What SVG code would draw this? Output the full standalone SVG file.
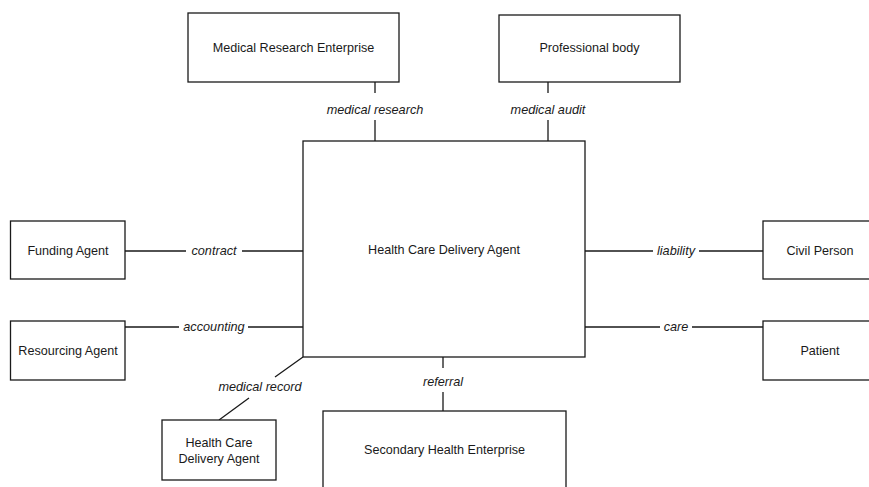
<svg xmlns="http://www.w3.org/2000/svg" width="869" height="487" viewBox="0 0 869 487">
  <style>
    .box { fill: #fff; stroke: #1a1a1a; stroke-width: 1.3; }
    .line { stroke: #1a1a1a; stroke-width: 1.3; fill: none; }
    .name { font-family: "Liberation Sans", Arial, sans-serif; font-size: 12.6px; fill: #1a1a1a; text-anchor: middle; }
    .rel { font-family: "Liberation Sans", Arial, sans-serif; font-size: 12.7px; font-style: italic; fill: #1a1a1a; text-anchor: middle; }
  </style>
  <rect width="869" height="487" fill="#fff"/>

  <!-- relationships -->
  <g id="connectors">
    <path class="line" d="M375 82V93M375 120V141"/>
    <text class="rel" x="375" y="114">medical research</text>
    <path class="line" d="M548 82V93M548 120V141"/>
    <text class="rel" x="548" y="114">medical audit</text>
    <path class="line" d="M125 251H186M242 251H303"/>
    <text class="rel" x="214" y="255">contract</text>
    <path class="line" d="M125 327H179M248 327H303"/>
    <text class="rel" x="214" y="331">accounting</text>
    <path class="line" d="M585 251H653M699 251H763"/>
    <text class="rel" x="676" y="255">liability</text>
    <path class="line" d="M585 327H660M692 327H763"/>
    <text class="rel" x="676" y="331">care</text>
    <path class="line" d="M303 357L275 377M249 398L219 420"/>
    <text class="rel" x="260" y="391">medical record</text>
    <path class="line" d="M443 357V368M443 392V411"/>
    <text class="rel" x="443" y="386">referral</text>
  </g>

  <g id="medical-research-enterprise">
    <rect class="box" x="188" y="13" width="211" height="69"/>
    <text class="name" x="293.5" y="52">Medical Research Enterprise</text>
  </g>
  <g id="professional-body">
    <rect class="box" x="499" y="15" width="181" height="67"/>
    <text class="name" x="589.5" y="52">Professional body</text>
  </g>
  <g id="health-care-delivery-agent">
    <rect class="box" x="303" y="141" width="282" height="216"/>
    <text class="name" x="444" y="254">Health Care Delivery Agent</text>
  </g>
  <g id="funding-agent">
    <rect class="box" x="10.5" y="221" width="114.5" height="58"/>
    <text class="name" x="68" y="255">Funding Agent</text>
  </g>
  <g id="resourcing-agent">
    <rect class="box" x="10.5" y="321" width="114.5" height="59"/>
    <text class="name" x="68" y="355">Resourcing Agent</text>
  </g>
  <g id="civil-person">
    <rect class="box" x="763" y="221" width="114" height="58"/>
    <text class="name" x="820" y="255">Civil Person</text>
  </g>
  <g id="patient">
    <rect class="box" x="763" y="321" width="114" height="59"/>
    <text class="name" x="820" y="355">Patient</text>
  </g>
  <g id="health-care-delivery-agent-2">
    <rect class="box" x="162" y="420" width="114" height="60"/>
    <text class="name" x="219" y="447">Health Care</text>
    <text class="name" x="219" y="463">Delivery Agent</text>
  </g>
  <g id="secondary-health-enterprise">
    <rect class="box" x="323" y="411" width="243" height="90"/>
    <text class="name" x="444.5" y="454">Secondary Health Enterprise</text>
  </g>
</svg>
